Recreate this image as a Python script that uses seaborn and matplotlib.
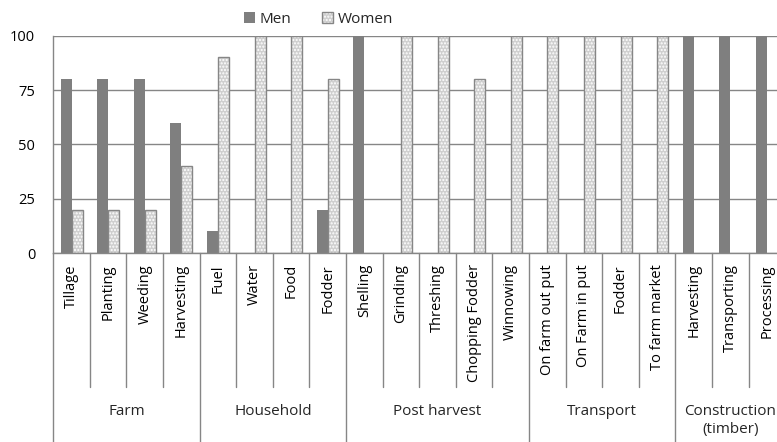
import numpy as np
import pandas as pd
import matplotlib.pyplot as plt
import matplotlib.patches as mpatches
import matplotlib.transforms as mtransforms
import seaborn as sns

# activities grouped by kind of work, share of labour done by men / women (%)
group_names = ['Farm', 'Household', 'Post harvest', 'Transport', 'Construction\n(timber)']
group_sizes = [4, 4, 5, 4, 3]
activities = ['Tillage', 'Planting', 'Weeding', 'Harvesting',
              'Fuel', 'Water', 'Food', 'Fodder',
              'Shelling', 'Grinding', 'Threshing', 'Chopping Fodder', 'Winnowing',
              'On farm out put', 'On Farm in put', 'Fodder', 'To farm market',
              'Harvesting', 'Transporting', 'Processing']
men = [80, 80, 80, 60, 10, 0, 0, 20, 100, 0, 0, 0, 0, 0, 0, 0, 0, 100, 100, 100]
women = [20, 20, 20, 40, 90, 100, 100, 80, 0, 100, 100, 80, 100, 100, 100, 100, 100, 0, 0, 0]
y_ticks = [0, 25, 50, 75, 100]

men_color = '#7f7f7f'
women_color = '#cfcfcf'
line_color = '#868686'

sns.set_theme(style='white')
plt.rcParams['font.family'] = ['Open Sans', 'DejaVu Sans']
plt.rcParams['hatch.linewidth'] = 1.0

# activity names repeat (Harvesting, Fodder) so use a unique key per bar group
groups = np.repeat(group_names, group_sizes)
keys = [g + ': ' + a for g, a in zip(groups, activities)]
df = pd.DataFrame({
    'key': keys * 2,
    'sex': ['Men'] * len(keys) + ['Women'] * len(keys),
    'share': men + women,
})

fig = plt.figure(figsize=(7.77, 4.42), dpi=100)
ax = fig.add_axes([0.0686, 0.4276, 0.942, 0.4916])

sns.barplot(data=df, x='key', y='share', hue='sex', order=keys,
            hue_order=['Men', 'Women'],
            palette={'Men': men_color, 'Women': women_color},
            width=0.6, errorbar=None, legend=False, saturation=1, ax=ax)

# dotted look for the women bars + grey outline
for bar in ax.containers[1]:
    bar.set_edgecolor('white')
    bar.set_hatch('.....')
    bar.set_linewidth(0)
    if bar.get_height() > 0:
        ax.add_patch(mpatches.Rectangle((bar.get_x(), 0), bar.get_width(), bar.get_height(),
                                        fill=False, edgecolor=line_color, lw=1, zorder=3))
for bar in ax.containers[0]:
    bar.set_linewidth(0)

ax.set_xlim(-0.5, len(keys) - 0.5)
ax.set_ylim(0, 100)
ax.set_yticks(y_ticks)
ax.yaxis.grid(True, color=line_color, lw=1)
ax.set_axisbelow(True)
ax.set_xticks(range(len(keys)))
ax.set_xticklabels(activities, rotation=90, va='top', ha='center')
ax.tick_params(axis='x', length=0, pad=8, labelsize=10.5, colors='black')
ax.tick_params(axis='y', length=0, pad=13, labelsize=10.5, colors='black')
ax.set_xlabel('')
ax.set_ylabel('')
sns.despine(ax=ax, top=True, right=True)
for s in ['left', 'bottom']:
    ax.spines[s].set_color(line_color)
    ax.spines[s].set_linewidth(1)

# multi-level category axis: separators and group names
trans = mtransforms.blended_transform_factory(ax.transData, fig.transFigure)
y0 = ax.get_position().y0
bounds = np.concatenate([[0], np.cumsum(group_sizes)])
for k in range(len(keys) + 1):
    bottom = 0 if k in bounds else 0.1244
    ax.plot([k - 0.5, k - 0.5], [y0, bottom], color=line_color, lw=1,
            transform=trans, clip_on=False)
for name, start, size in zip(group_names, bounds[:-1], group_sizes):
    ax.text(start + size / 2 - 0.5, 0.087, name, transform=trans,
            ha='center', va='top', fontsize=11, linespacing=1.3)

# legend
h_men = mpatches.Patch(facecolor=men_color, edgecolor='none')
h_women = (mpatches.Patch(facecolor=women_color, edgecolor='white', hatch='.....', lw=0),
           mpatches.Patch(fill=False, edgecolor=line_color, lw=1))
fig.legend([h_men, h_women], ['Men', 'Women'], loc='center', bbox_to_anchor=(0.41, 0.956),
           ncol=2, frameon=False, handlelength=0.75, handleheight=0.75,
           handletextpad=0.3, columnspacing=2.0, fontsize=11)

fig.savefig('out.png', dpi=100)
